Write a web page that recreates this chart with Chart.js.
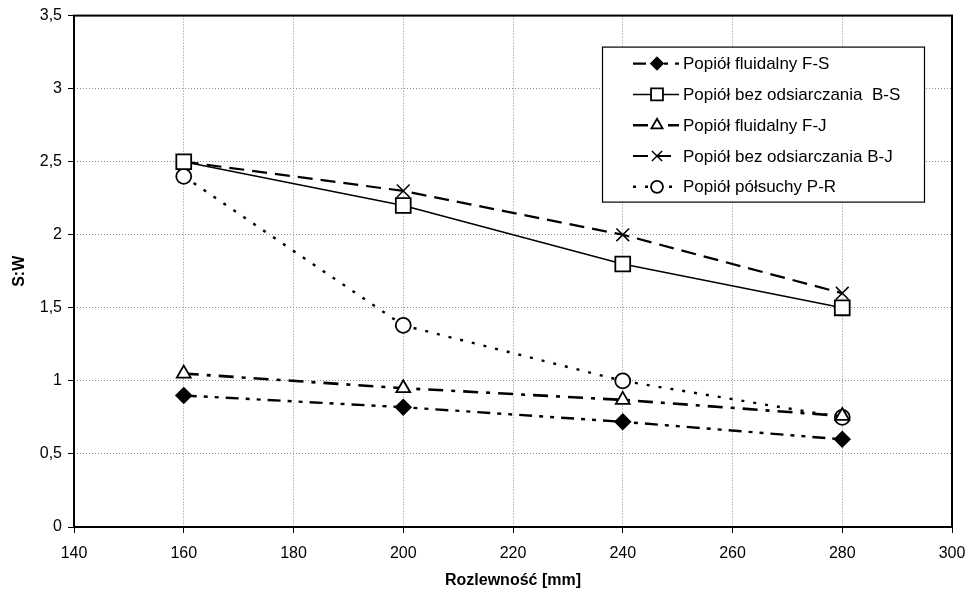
<!DOCTYPE html>
<html>
<head>
<meta charset="utf-8">
<script src="https://cdn.jsdelivr.net/npm/chart.js@4"></script>
<style>
  html, body { margin: 0; padding: 0; background: #fff; }
</style>
</head>
<body>
<canvas id="chart" width="967" height="594"></canvas>
<script>
// dane
const rozlewnosc = [160, 200, 240, 280]
const popiolFS = [0.9, 0.82, 0.72, 0.6]
const popiolBS = [2.5, 2.2, 1.8, 1.5]
const popiolFJ = [1.05, 0.95, 0.87, 0.76]
const popiolBJ = [2.5, 2.3, 2.0, 1.6]
const popiolPR = [2.4, 1.38, 1.0, 0.75]
const seriesNames = [
    'Popiół fluidalny F-S',
    'Popiół bez odsiarczania  B-S',
    'Popiół fluidalny F-J',
    'Popiół bez odsiarczania B-J',
    'Popiół półsuchy P-R'
]

const FONT = '"Liberation Sans", Arial, sans-serif'

const toPoints = arr => arr.map((v, i) => ({x: rozlewnosc[i], y: v}))

const makeSet = (label, values, opts) => Object.assign({
    label: label,
    data: toPoints(values),
    borderColor: '#000',
    backgroundColor: '#fff',
    pointBorderColor: '#000',
    pointBorderWidth: 1.8,
    tension: 0,
    fill: false
}, opts)

const datasets = [
    makeSet(seriesNames[0], popiolFS, {borderWidth: 2.4, borderDash: [13, 7, 4, 7, 4, 7], pointStyle: 'rectRot', pointRadius: 7.5, pointBackgroundColor: '#000'}),
    makeSet(seriesNames[1], popiolBS, {borderWidth: 1.5, borderDash: [], pointStyle: 'rect', pointRadius: 10.5, pointBackgroundColor: '#fff'}),
    makeSet(seriesNames[2], popiolFJ, {borderWidth: 2.6, borderDash: [15, 8, 4, 8], pointStyle: 'triangle', pointRadius: 8, pointBackgroundColor: '#fff'}),
    makeSet(seriesNames[3], popiolBJ, {borderWidth: 2.2, borderDash: [15, 8], pointStyle: 'crossRot', pointRadius: 9, pointBorderWidth: 1.5}),
    makeSet(seriesNames[4], popiolPR, {borderWidth: 2.4, borderDash: [3, 9], pointStyle: 'circle', pointRadius: 7.5, pointBackgroundColor: '#fff'})
]

// ramka wokół obszaru wykresu
const frame = {
    id: 'frame',
    beforeDatasetsDraw(chart) {
        const a = chart.chartArea
        const ctx = chart.ctx
        ctx.save()
        ctx.strokeStyle = '#000'
        ctx.lineWidth = 2
        ctx.setLineDash([])
        ctx.strokeRect(a.left, a.top, a.right - a.left, a.bottom - a.top)
        ctx.restore()
    }
}

// legenda w ramce, jak w oryginale
const boxLegend = {
    id: 'boxLegend',
    afterDraw(chart) {
        const a = chart.chartArea
        const ctx = chart.ctx
        const x0 = a.right - 350, y0 = a.top + 31, w = 322, h = 155
        ctx.save()
        ctx.fillStyle = '#fff'
        ctx.fillRect(x0, y0, w, h)
        ctx.strokeStyle = '#000'
        ctx.lineWidth = 1.2
        ctx.setLineDash([])
        ctx.strokeRect(x0 + 0.5, y0 + 0.5, w, h)
        chart.data.datasets.forEach((ds, i) => {
            const cy = y0 + 17 + i * 30.8
            const lx1 = x0 + 31, lx2 = x0 + 77, mx = x0 + 55
            ctx.strokeStyle = '#000'
            ctx.lineWidth = ds.borderWidth
            ctx.setLineDash(ds.borderDash)
            ctx.beginPath()
            ctx.moveTo(lx1, cy)
            ctx.lineTo(lx2, cy)
            ctx.stroke()
            ctx.setLineDash([])
            ctx.fillStyle = ds.pointBackgroundColor || '#fff'
            ctx.strokeStyle = '#000'
            ctx.lineWidth = ds.pointBorderWidth
            Chart.helpers.drawPoint(ctx, {
                pointStyle: ds.pointStyle,
                radius: ds.pointRadius * 0.8,
                rotation: 0,
                borderWidth: ds.pointBorderWidth
            }, mx, cy)
            ctx.fillStyle = '#000'
            ctx.font = '17px ' + FONT
            ctx.textBaseline = 'middle'
            ctx.fillText(ds.label, x0 + 81, cy + 1)
        })
        ctx.restore()
    }
}

const commaTick = v => String(v).replace('.', ',')

new Chart(document.getElementById('chart'), {
    type: 'line',
    data: {datasets: datasets},
    plugins: [frame, boxLegend],
    options: {
        responsive: false,
        animation: false,
        devicePixelRatio: 1,
        layout: {padding: {left: 0, right: 15, top: 14, bottom: 0}},
        plugins: {
            legend: {display: false},
            tooltip: {enabled: false}
        },
        scales: {
            x: {
                type: 'linear',
                min: 140,
                max: 300,
                ticks: {
                    stepSize: 20,
                    color: '#000',
                    padding: 11,
                    maxRotation: 0,
                    font: {family: FONT, size: 16}
                },
                grid: {color: '#8a8a8a', tickColor: '#000', tickLength: 6, tickBorderDash: [], lineWidth: 1},
                border: {display: false, dash: [1, 2]},
                title: {
                    display: true,
                    text: 'Rozlewność [mm]',
                    color: '#000',
                    padding: {top: 4, bottom: 4},
                    font: {family: FONT, size: 16, weight: 'bold'}
                },
                afterFit: s => {
                    s.height = 67
                    s.paddingLeft = 0
                    s.paddingRight = 0
                }
            },
            y: {
                min: 0,
                max: 3.5,
                ticks: {
                    stepSize: 0.5,
                    color: '#000',
                    padding: 6,
                    callback: v => commaTick(v),
                    font: {family: FONT, size: 16}
                },
                grid: {color: '#8a8a8a', tickColor: '#000', tickLength: 6, tickBorderDash: [], lineWidth: 1},
                border: {display: false, dash: [1, 2]},
                title: {
                    display: true,
                    text: 'S:W',
                    color: '#000',
                    padding: {top: 10, bottom: 4},
                    font: {family: FONT, size: 16, weight: 'bold'}
                },
                afterFit: s => { s.width = 74 }
            }
        }
    }
})
</script>
</body>
</html>
